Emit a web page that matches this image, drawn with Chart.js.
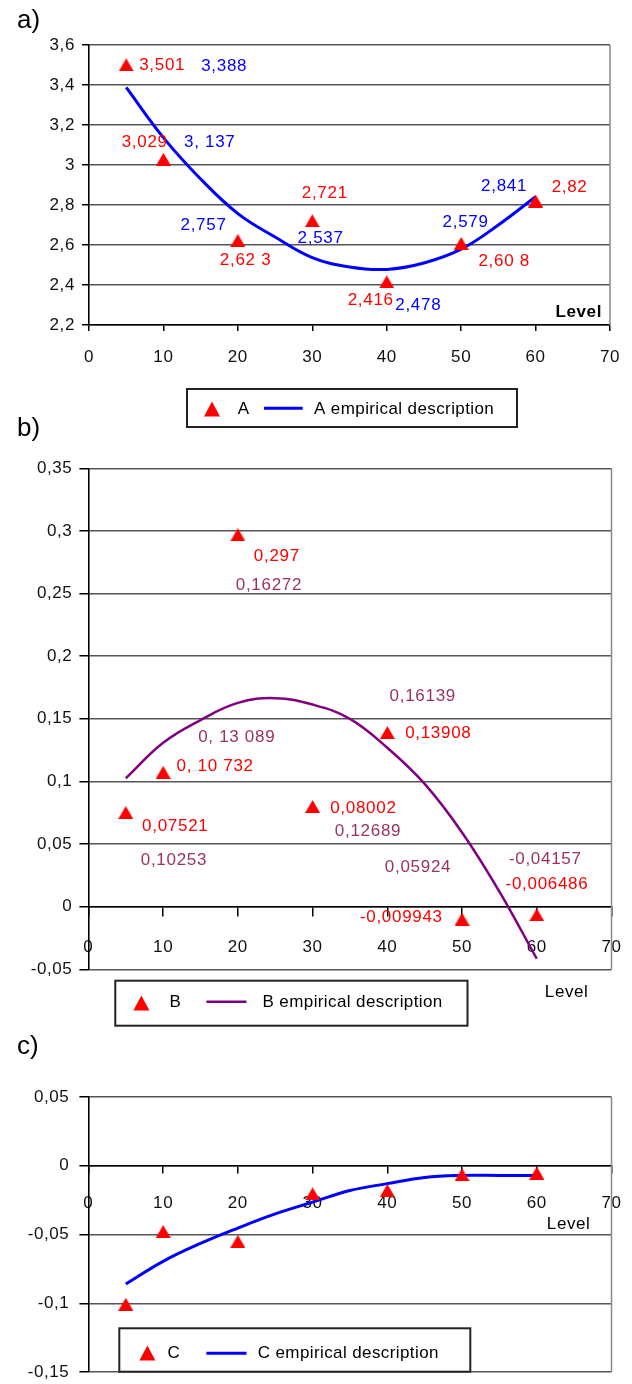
<!DOCTYPE html>
<html>
<head>
<meta charset="utf-8">
<script src="https://cdn.jsdelivr.net/npm/chart.js@4.4.1/dist/chart.umd.min.js"></script>
<style>
html,body{margin:0;padding:0;background:#fff;}
body{width:632px;height:1384px;position:relative;overflow:hidden;font-family:"Liberation Sans",Arial,sans-serif;}
.wrap{position:absolute;left:0;width:632px;}
.tag{position:absolute;left:17px;font-size:26px;line-height:26px;color:#000;}
canvas{display:block;}
</style>
</head>
<body>
<div class="wrap" style="top:0;height:440px"><canvas id="cA" width="632" height="440"></canvas></div>
<div class="wrap" style="top:440px;height:600px"><canvas id="cB" width="632" height="600"></canvas></div>
<div class="wrap" style="top:1040px;height:344px"><canvas id="cC" width="632" height="344"></canvas></div>
<div class="tag" style="top:6px">a)</div>
<div class="tag" style="top:414px">b)</div>
<div class="tag" style="top:1032px">c)</div>
<script>
// ---------- data ----------
const levels = [5, 10, 20, 30, 40, 50, 60];
const fitLevels = [5, 10, 15, 20, 25, 30, 35, 40, 45, 50, 55, 60];

const aValues = [3.501, 3.029, 2.623, 2.721, 2.416, 2.608, 2.82];
const aFit = [3.388, 3.137, 2.93, 2.757, 2.64, 2.537, 2.49, 2.478, 2.51, 2.579, 2.70, 2.841];

const bValues = [0.07521, 0.10732, 0.297, 0.08002, 0.13908, -0.009943, -0.006486];
const bFit = [0.10253, 0.13089, 0.149, 0.16272, 0.1665, 0.16139, 0.150, 0.12689, 0.098, 0.05924, 0.012, -0.04157];

const cValues = [-0.1007, -0.0478, -0.055, -0.0204, -0.018, -0.0065, -0.0053];
const cFit = [-0.086, -0.0695, -0.0565, -0.0453, -0.035, -0.0265, -0.018, -0.013, -0.0085, -0.007, -0.007, -0.007];

const xTicks = ['0', '10', '20', '30', '40', '50', '60', '70'];
const yTicksA = ['2,2', '2,4', '2,6', '2,8', '3', '3,2', '3,4', '3,6'];
const yTicksB = ['-0,05', '0', '0,05', '0,1', '0,15', '0,2', '0,25', '0,3', '0,35'];
const yTicksC = ['-0,15', '-0,1', '-0,05', '0', '0,05'];

const aLabels = ['3,501', '3,029', '2,62 3', '2,721', '2,416', '2,60 8', '2,82'];
const aFitLabels = ['3,388', '3, 137', '2,757', '2,537', '2,478', '2,579', '2,841'];
const bLabels = ['0,07521', '0, 10 732', '0,297', '0,08002', '0,13908', '-0,009943', '-0,006486'];
const bFitLabels = ['0,10253', '0, 13 089', '0,16272', '0,16139', '0,12689', '0,05924', '-0,04157'];

// ---------- label placement (offsets from the labelled point, px) ----------
const aOff = [[36, 1], [-18.7, -17], [7.7, 19.6], [12.5, -27.5], [-16, 19], [43, 18.3], [34, -13.7]];
const aFitOff = [[98, -20.7], [46.3, 4.7], [-34.3, 11.4], [8.3, -19.3], [31.6, 35.6], [4.5, -26.5], [-31.5, -10]];
const bOff = [[49.5, 13.7], [52, -6], [39, 21.3], [50.8, 2], [51, 1], [-60.7, -2], [10.2, -30.6]];
const bFitOff = [[48.2, 81.9], [73.6, -5.9], [31.1, -117.8], [110.2, -8.7], [-19.3, 83.1], [-44, 34.4], [8.5, -99.5]];

const RED = '#ff0000', BLUE = '#0000ff', PURPLE = '#800080', PLUM = '#993366';
const FONT = '"Liberation Sans", Arial, sans-serif';

function tri(w, h, color) {
  const c = document.createElement('canvas');
  c.width = w; c.height = h;
  const g = c.getContext('2d');
  g.fillStyle = color;
  g.beginPath(); g.moveTo(w / 2, 0); g.lineTo(w, h); g.lineTo(0, h); g.closePath(); g.fill();
  return c;
}
const marker = tri(15, 13, RED);

function pts(xs, ys) { return xs.map((x, i) => ({x: x, y: ys[i]})); }

const extras = {
  id: 'extras',
  beforeDraw(chart) { chart.ctx.letterSpacing = '0.6px'; },
  afterDraw(chart, args, o) {
    const ctx = chart.ctx, ca = chart.chartArea;
    ctx.save();
    // right frame edge
    ctx.strokeStyle = '#8a8a8a'; ctx.lineWidth = 1.5;
    ctx.beginPath(); ctx.moveTo(ca.right, ca.top); ctx.lineTo(ca.right, ca.bottom); ctx.stroke();
    // value labels
    ctx.letterSpacing = '0.7px';
    ctx.font = '17px ' + FONT; ctx.textAlign = 'center'; ctx.textBaseline = 'middle';
    (o.labels || []).forEach(L => {
      const meta = chart.getDatasetMeta(L.ds), data = chart.data.datasets[L.ds].data;
      ctx.fillStyle = L.color;
      L.at.forEach((lv, i) => {
        const j = data.findIndex(p => p.x === lv);
        if (j < 0) return;
        const el = meta.data[j];
        ctx.fillText(L.texts[i], el.x + L.offs[i][0], el.y + L.offs[i][1]);
      });
    });
    // axis caption
    if (o.level) {
      const lv = o.level;
      ctx.letterSpacing = '0.6px';
      ctx.font = (lv.bold ? 'bold ' : '') + '17px ' + FONT;
      ctx.fillStyle = '#000'; ctx.textAlign = 'right';
      const y = lv.fromZero ? chart.scales.y.getPixelForValue(0) + lv.dy : ca.bottom + lv.dy;
      ctx.fillText(lv.text, ca.right + lv.dx, y);
    }
    // legend
    if (o.legend) {
      const g = o.legend, d0 = chart.data.datasets[0], d1 = chart.data.datasets[1];
      ctx.fillStyle = '#fff';
      ctx.fillRect(g.box[0], g.box[1], g.box[2], g.box[3]);
      ctx.strokeStyle = '#222'; ctx.lineWidth = 2;
      ctx.strokeRect(g.box[0], g.box[1], g.box[2], g.box[3]);
      ctx.fillStyle = RED;
      ctx.beginPath();
      ctx.moveTo(g.marker[0], g.marker[1] - 7.5);
      ctx.lineTo(g.marker[0] + 8, g.marker[1] + 7.5);
      ctx.lineTo(g.marker[0] - 8, g.marker[1] + 7.5);
      ctx.closePath(); ctx.fill();
      ctx.strokeStyle = d1.borderColor; ctx.lineWidth = d1.borderWidth;
      ctx.beginPath(); ctx.moveTo(g.line[0], g.line[2]); ctx.lineTo(g.line[1], g.line[2]); ctx.stroke();
      ctx.letterSpacing = '0.4px';
      ctx.font = '17px ' + FONT; ctx.fillStyle = '#000'; ctx.textAlign = 'left'; ctx.textBaseline = 'middle';
      ctx.fillText(d0.label, g.mText[0], g.mText[1]);
      ctx.fillText(d1.label, g.lText[0], g.lText[1]);
    }
    ctx.restore();
  }
};

function makeChart(id, cfg) {
  const yTickLabels = cfg.yLabels;
  return new Chart(document.getElementById(id), {
    type: 'scatter',
    data: {
      datasets: [
        {label: cfg.pointLabel, data: pts(levels, cfg.values), pointStyle: marker, pointRadius: 8, pointHoverRadius: 8,
         backgroundColor: RED, borderColor: RED, showLine: false, order: 0},
        {label: cfg.fitLabel, data: pts(fitLevels, cfg.fit), showLine: true, pointRadius: 0, pointHoverRadius: 0,
         borderColor: cfg.lineColor, borderWidth: cfg.lineWidth, tension: 0.4, fill: false, order: 1}
      ]
    },
    options: {
      responsive: false, animation: false, devicePixelRatio: 1,
      layout: {padding: cfg.padding},
      plugins: {legend: {display: false}, tooltip: {enabled: false},
        extras: {labels: cfg.labels, legend: cfg.legend, level: cfg.level}},
      scales: {
        x: {
          type: 'linear', min: 0, max: 70, position: cfg.xPos,
          afterFit: s => { if (cfg.xHeight) s.height = cfg.xHeight; s.paddingLeft = 0; s.paddingRight = 0; },
          ticks: {stepSize: 10, padding: cfg.xPad, color: '#111', font: {family: FONT, size: 17},
                  maxRotation: 0, autoSkip: false, callback: (v, i) => xTicks[i] !== undefined ? xTicks[i] : String(v)},
          grid: {drawOnChartArea: false, drawTicks: true, tickLength: cfg.xTick, color: '#000', lineWidth: 1.5},
          border: {display: true, color: '#000', width: 1.5}
        },
        y: {
          type: 'linear', min: cfg.yMin, max: cfg.yMax, position: 'left',
          afterFit: s => { s.width = cfg.yWidth; s.paddingTop = 0; s.paddingBottom = 0; },
          ticks: {stepSize: cfg.yStep, padding: cfg.yPad, color: '#111', font: {family: FONT, size: 17},
                  autoSkip: false, callback: (v, i) => yTickLabels[i] !== undefined ? yTickLabels[i] : String(v)},
          grid: {color: '#555', lineWidth: 1.5, tickLength: cfg.yTick, tickColor: '#000', drawTicks: true},
          border: {display: true, color: '#000', width: 1.6}
        }
      }
    },
    plugins: [extras]
  });
}

makeChart('cA', {
  pointLabel: 'A', fitLabel: 'A empirical description', values: aValues, fit: aFit,
  lineColor: BLUE, lineWidth: 3,
  padding: {top: 45, right: 22, bottom: 75, left: 0},
  xPos: 'bottom', xHeight: 40, xPad: 16, xTick: 6,
  yMin: 2.2, yMax: 3.6, yStep: 0.2, yLabels: yTicksA, yWidth: 89, yPad: 7, yTick: 7,
  labels: [
    {ds: 0, at: levels, texts: aLabels, offs: aOff, color: RED},
    {ds: 1, at: levels, texts: aFitLabels, offs: aFitOff, color: BLUE}
  ],
  level: {text: 'Level', bold: true, dx: -8, dy: -13},
  legend: {box: [187, 389, 330, 38], marker: [212, 409], mText: [237.7, 409], line: [264, 302.7, 408.3], lText: [314, 409]}
});

makeChart('cB', {
  pointLabel: 'B', fitLabel: 'B empirical description', values: bValues, fit: bFit,
  lineColor: PURPLE, lineWidth: 2.5,
  padding: {top: 28.3, right: 20.5, bottom: 70.7, left: 0},
  xPos: {y: 0}, xHeight: 0, xPad: 21, xTick: 9,
  yMin: -0.05, yMax: 0.35, yStep: 0.05, yLabels: yTicksB, yWidth: 88.4, yPad: 7, yTick: 9,
  labels: [
    {ds: 0, at: levels, texts: bLabels, offs: bOff, color: RED},
    {ds: 1, at: levels, texts: bFitLabels, offs: bFitOff, color: PLUM}
  ],
  level: {text: 'Level', bold: false, dx: -23, dy: 22.7},
  legend: {box: [115.3, 540.7, 352.2, 45], marker: [141.4, 563], mText: [169.5, 562.7], line: [206.4, 246.5, 561.7], lText: [262.5, 562.7]}
});

makeChart('cC', {
  pointLabel: 'C', fitLabel: 'C empirical description', values: cValues, fit: cFit,
  lineColor: BLUE, lineWidth: 3,
  padding: {top: 57, right: 20.5, bottom: 12, left: 0},
  xPos: {y: 0}, xHeight: 0, xPad: 20, xTick: 7,
  yMin: -0.15, yMax: 0.05, yStep: 0.05, yLabels: yTicksC, yWidth: 88.4, yPad: 10, yTick: 9,
  labels: [],
  level: {text: 'Level', bold: false, fromZero: true, dx: -21, dy: 59},
  legend: {box: [119.3, 288.3, 351, 43.4], marker: [147.4, 313], mText: [167.5, 313], line: [206.4, 246.5, 313.3], lText: [257.7, 313]}
});
</script>
</body>
</html>
